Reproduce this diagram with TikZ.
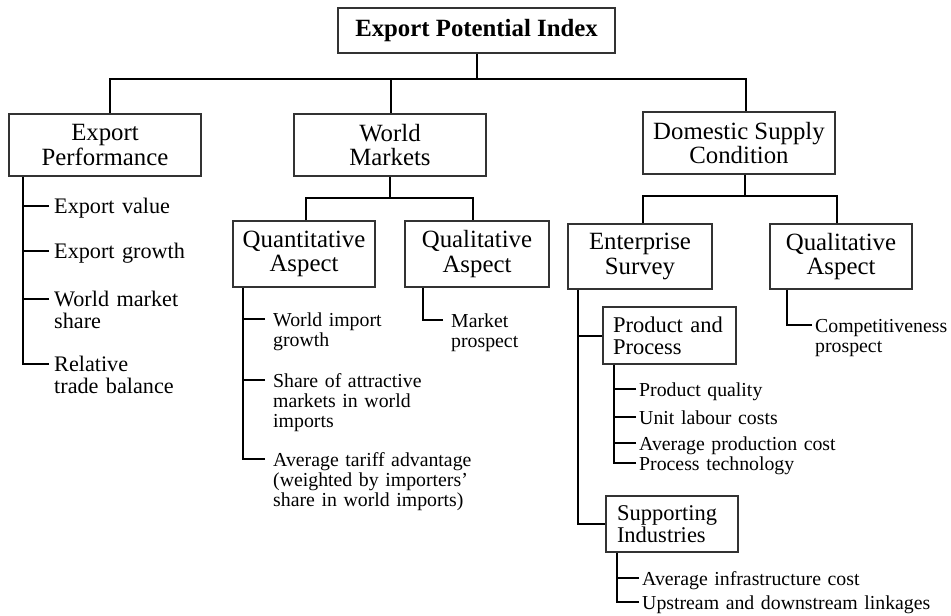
\documentclass[tikz,border=0pt]{standalone}
\usepackage{fontspec}
\setmainfont{Liberation Serif}
\usetikzlibrary{calc}
% tick from a spine to the first line of a leaf label: #1 spine, #2 leaf node, #3 gap
\newcommand\leaftick[3]{%
  \path ($(#2.base west)+(-#3,-7)$) coordinate (#2-t);
  \draw[conn] (#2-t) -- (#2-t -| #1);}
\begin{document}
\begin{tikzpicture}[x=1pt,y=-1pt,
  box/.style={draw=black!80, line width=1.2pt, inner sep=0pt, align=center,
              font=\fontsize{24.8}{24.5}\selectfont},
  subbox/.style={draw=black!80, line width=1.2pt, inner sep=0pt, align=left,
                 font=\fontsize{22.5}{22}\selectfont},
  leaf/.style={anchor=base west, inner sep=0pt, align=left, text width=300pt,
               font=\fontsize{19.8}{20}\selectfont},
  bigleaf/.style={leaf, font=\fontsize{22.2}{22.5}\selectfont},
  conn/.style={line width=2pt},
]
\useasboundingbox (0,0) rectangle (951,616);

% boxes
\node[box, minimum width=277, minimum height=45, font=\fontsize{24.8}{24.5}\selectfont\bfseries]
  (top) at (476.5,30.5) {Export Potential Index};
\node[box, minimum width=192, minimum height=62] (ep) at (105,145) {Export\\Performance};
\node[box, minimum width=192, minimum height=62] (wm) at (390,145) {World\\Markets};
\node[box, minimum width=192, minimum height=62] (ds) at (739,143) {Domestic Supply\\Condition};
\node[box, minimum width=142, minimum height=66] (qa) at (304,254) {Quantitative\\Aspect};
\node[box, minimum width=144, minimum height=66] (ql) at (477,254) {Qualitative\\Aspect};
\node[box, minimum width=144, minimum height=65] (es) at (640,256.5) {Enterprise\\Survey};
\node[box, minimum width=142, minimum height=65] (qd) at (841,256.5) {Qualitative\\Aspect};
\node[subbox, inner xsep=10pt, text width=113pt, minimum height=57] (pp) at (669.5,335.5) {Product and\\Process};
\node[subbox, inner xsep=11pt, text width=110pt, minimum height=56] (si) at (672,524) {Supporting\\Industries};

% top-level bus
\coordinate (bL) at (110,79);
\coordinate (bM) at (391,79);
\coordinate (bR) at (746,79);
\draw[conn] (top.south) -- (top.south |- bL);
\draw[conn] (ep.north -| bL) -- (bL) -- (bR) -- (ds.north -| bR);
\draw[conn] (bM) -- (wm.north -| bM);

% World Markets bus
\coordinate (wL) at (306,198);
\coordinate (wR) at (473,198);
\draw[conn] (wm.south) -- (wm.south |- wL);
\draw[conn] (qa.north -| wL) -- (wL) -- (wR) -- (ql.north -| wR);

% Domestic Supply bus
\coordinate (dL) at (643,196);
\coordinate (dM) at (745,196);
\coordinate (dR) at (837,196);
\draw[conn] (ds.south -| dM) -- (dM);
\draw[conn] (es.north -| dL) -- (dL) -- (dR) -- (qd.north -| dR);

% spine positions
\coordinate (sEP) at (23,0);
\coordinate (sQ) at (243,0);
\coordinate (sM) at (423,0);
\coordinate (sES) at (578,0);
\coordinate (sP) at (614,0);
\coordinate (sS) at (617,0);
\coordinate (sD) at (787,0);

% leaves
\node[bigleaf] (e1) at (54,213) {Export value};
\node[bigleaf] (e2) at (54,258) {Export growth};
\node[bigleaf] (e3) at (54,306) {World market\\share};
\node[bigleaf] (e4) at (54,371) {Relative\\trade balance};

\node[leaf] (q1) at (273,326) {World import\\growth};
\node[leaf] (q2) at (273,387) {Share of attractive\\markets in world\\imports};
\node[leaf] (q3) at (273,466) {Average tariff advantage\\(weighted by importers’\\share in world imports)};

\node[leaf] (m1) at (451,327) {Market\\prospect};

\node[leaf] (p1) at (639,396) {Product quality};
\node[leaf] (p2) at (639,424) {Unit labour costs};
\node[leaf] (p3) at (639,450) {Average production cost};
\node[leaf] (p4) at (639,470) {Process technology};

\node[leaf] (s1) at (642,585) {Average infrastructure cost};
\node[leaf] (s2) at (642,609) {Upstream and downstream linkages};

\node[leaf] (c1) at (815,332) {Competitiveness\\prospect};

% ticks and spines
\leaftick{sEP}{e1}{5}\leaftick{sEP}{e2}{5}\leaftick{sEP}{e3}{5}\leaftick{sEP}{e4}{5}
\draw[conn] (ep.south -| sEP) |- (e4-t);

\leaftick{sQ}{q1}{8}\leaftick{sQ}{q2}{8}\leaftick{sQ}{q3}{8}
\draw[conn] (qa.south -| sQ) |- (q3-t);

\leaftick{sM}{m1}{8}
\draw[conn] (ql.south -| sM) |- (m1-t);

\draw[conn] (es.south -| sES) |- (si.west);
\draw[conn] (pp.west) -- (pp.west -| sES);

\leaftick{sP}{p1}{3}\leaftick{sP}{p2}{3}\leaftick{sP}{p3}{3}\leaftick{sP}{p4}{3}
\draw[conn] (pp.south -| sP) |- (p4-t);

\leaftick{sS}{s1}{3}\leaftick{sS}{s2}{3}
\draw[conn] (si.south -| sS) |- (s2-t);

\leaftick{sD}{c1}{3}
\draw[conn] (qd.south -| sD) |- (c1-t);
\end{tikzpicture}
\end{document}
